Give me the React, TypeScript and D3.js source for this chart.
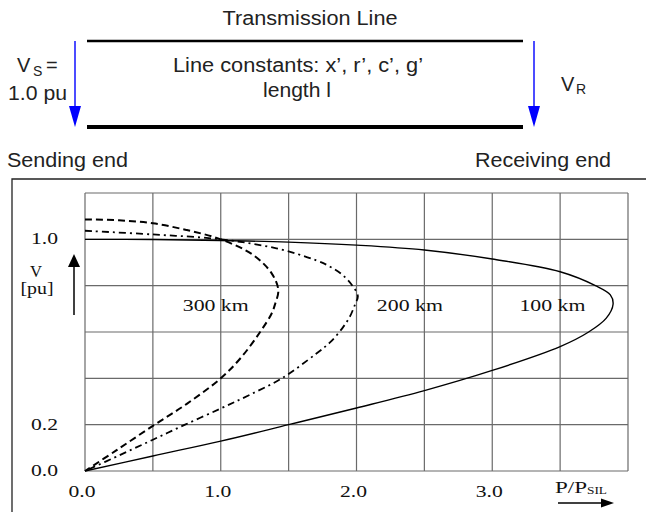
import * as d3 from "d3";

// receiving-end voltage vs. transferred power
const p100 = [0, 0.5, 1.0, 1.5, 2.0, 2.5, 3.0, 3.5, 3.76, 3.87, 3.89, 3.84, 3.71, 3.5, 3.0, 2.5, 2.0, 1.5, 1.0, 0.5, 0];
const v100 = [1.0, 0.999, 0.995, 0.988, 0.975, 0.954, 0.915, 0.86, 0.8, 0.76, 0.72, 0.66, 0.6, 0.537, 0.434, 0.347, 0.272, 0.2, 0.129, 0.065, 0];

const p200 = [0, 0.5, 1.0, 1.41, 1.7, 1.805, 1.9, 1.97, 2.01, 1.99, 1.95, 1.9, 1.805, 1.7, 1.45, 1.2, 1.0, 0.737, 0.5, 0.25, 0];
const v200 = [1.037, 1.021, 1.0, 0.961, 0.91, 0.882, 0.845, 0.8, 0.755, 0.72, 0.665, 0.62, 0.555, 0.505, 0.4, 0.325, 0.27, 0.2, 0.135, 0.067, 0];

const p300 = [0, 0.25, 0.5, 0.75, 1.0, 1.24, 1.375, 1.424, 1.4, 1.375, 1.29, 1.15, 1.0, 0.75, 0.5, 0.233, 0];
const v300 = [1.086, 1.082, 1.069, 1.04, 1.0, 0.932, 0.853, 0.781, 0.72, 0.68, 0.6, 0.49, 0.4, 0.29, 0.195, 0.09, 0];

const curveNames = ["100 km", "200 km", "300 km"];
const labelPos = [[3.2, 0.69], [2.15, 0.69], [0.72, 0.69]]; // P, V of each label

const xTicks = [0, 1, 2, 3];
const yTicks = [0, 0.2, 1.0];
const xGrid = [0, 0.5, 1, 1.5, 2, 2.5, 3, 3.5, 4];
const yGrid = [0, 0.2, 0.4, 0.6, 0.8, 1.0, 1.2];

const SANS = "'Liberation Sans', Arial, sans-serif";
const SERIF = "'Liberation Serif', 'Times New Roman', serif";

function App() {
  const x = d3.scaleLinear().domain([0, 4]).range([85, 628]);
  const y = d3.scaleLinear().domain([0, 1.2]).range([471, 193]);

  const line = d3.line<[number, number]>()
    .x(d => x(d[0]))
    .y(d => y(d[1]))
    .curve(d3.curveCatmullRom.alpha(0.5));

  const series = [
    {p: p100, v: v100, dash: null, w: 1.4},
    {p: p200, v: v200, dash: "7,4,2,4", w: 1.8},
    {p: p300, v: v300, dash: "7,4", w: 2},
  ];

  const blueArrow = (cx: number) => (
    <g>
      <line x1={cx} x2={cx} y1={41} y2={108} stroke="#1010ff" strokeWidth={1.5} />
      <path d={`M${cx - 6},106L${cx + 6},106L${cx},127Z`} fill="#0000ff" />
    </g>
  );

  return (
    <svg width={646} height={512} style={{position: "absolute", left: 0, top: 0, background: "#fff"}}>
      {/* transmission line sketch */}
      <text x={310} y={25} fontFamily={SANS} fontSize={20} textLength={175} lengthAdjust="spacingAndGlyphs" textAnchor="middle" fill="#222">Transmission Line</text>
      <line x1={87} x2={523} y1={41} y2={41} stroke="#000" strokeWidth={2.5} />
      <line x1={87} x2={523} y1={127} y2={127} stroke="#000" strokeWidth={4} />
      <text x={298} y={72} fontFamily={SANS} fontSize={20} textLength={250} lengthAdjust="spacingAndGlyphs" textAnchor="middle" fill="#222">Line constants: x’, r’, c’, g’</text>
      <text x={297} y={97} fontFamily={SANS} fontSize={20} textLength={68} lengthAdjust="spacingAndGlyphs" textAnchor="middle" fill="#222">length l</text>
      {blueArrow(75)}
      {blueArrow(534)}
      <text x={17} y={72} fontFamily={SANS} fontSize={20} fill="#222">V</text>
      <text x={33} y={76} fontFamily={SANS} fontSize={14} fill="#222">S</text>
      <text x={46} y={72} fontFamily={SANS} fontSize={20} fill="#222">=</text>
      <text x={8} y={100} fontFamily={SANS} fontSize={20} textLength={59} lengthAdjust="spacingAndGlyphs" fill="#222">1.0 pu</text>
      <text x={561} y={91} fontFamily={SANS} fontSize={20} fill="#222">V</text>
      <text x={576} y={94} fontFamily={SANS} fontSize={14} fill="#222">R</text>
      <text x={7} y={167} fontFamily={SANS} fontSize={20} textLength={121} lengthAdjust="spacingAndGlyphs" fill="#222">Sending end</text>
      <text x={475} y={167} fontFamily={SANS} fontSize={20} textLength={136} lengthAdjust="spacingAndGlyphs" fill="#222">Receiving end</text>

      {/* outer frame of the chart */}
      <path d="M12,512V179H646" fill="none" stroke="#222" strokeWidth={1.3} />

      {/* grid */}
      {xGrid.map(g => (
        <line key={"gx" + g} x1={x(g)} x2={x(g)} y1={y(1.2)} y2={y(0)} stroke="#6a6a6a" strokeWidth={1.2} />
      ))}
      {yGrid.map(g => (
        <line key={"gy" + g} x1={x(0)} x2={x(4)} y1={y(g)} y2={y(g)} stroke="#6a6a6a" strokeWidth={1.2} />
      ))}

      {/* curves */}
      {series.map((s, i) => (
        <path key={"c" + i}
          d={line(s.p.map((p, j) => [p, s.v[j]] as [number, number])) || ""}
          fill="none" stroke="#000" strokeWidth={s.w}
          strokeDasharray={s.dash || undefined} />
      ))}
      {curveNames.map((n, i) => (
        <text key={n} x={x(labelPos[i][0])} y={y(labelPos[i][1])} fontFamily={SERIF} fontSize={17}
          textLength={66} lengthAdjust="spacingAndGlyphs" fill="#111">{n}</text>
      ))}

      {/* axes labels */}
      {yTicks.map(t => (
        <text key={"yt" + t} x={58} y={y(t) + 5} fontFamily={SERIF} fontSize={16.5} textAnchor="end"
          textLength={27} lengthAdjust="spacingAndGlyphs" fill="#111">{t.toFixed(1)}</text>
      ))}
      {xTicks.map(t => (
        <text key={"xt" + t} x={x(t) - 3} y={497} fontFamily={SERIF} fontSize={16.5} textAnchor="middle"
          textLength={27} lengthAdjust="spacingAndGlyphs" fill="#111">{t.toFixed(1)}</text>
      ))}
      <text x={36} y={277} fontFamily={SERIF} fontSize={16} textAnchor="middle" textLength={12} lengthAdjust="spacingAndGlyphs" fill="#111">V</text>
      <text x={37} y={294} fontFamily={SERIF} fontSize={16} textAnchor="middle" textLength={33} lengthAdjust="spacingAndGlyphs" fill="#111">[pu]</text>
      <line x1={74} x2={74} y1={315} y2={264} stroke="#000" strokeWidth={1.5} />
      <path d="M68,267L80,267L74,254Z" fill="#000" />

      <text x={555} y={493} fontFamily={SERIF} fontSize={17} textLength={32} lengthAdjust="spacingAndGlyphs" fill="#111">P/P</text>
      <text x={587} y={494} fontFamily={SERIF} fontSize={10.5} textLength={20} lengthAdjust="spacingAndGlyphs" fill="#111">SIL</text>
      <line x1={558} x2={604} y1={503} y2={503} stroke="#000" strokeWidth={1.3} />
      <path d="M601,498.5L614,503L601,507.5Z" fill="#000" />
    </svg>
  );
}

export default App;
